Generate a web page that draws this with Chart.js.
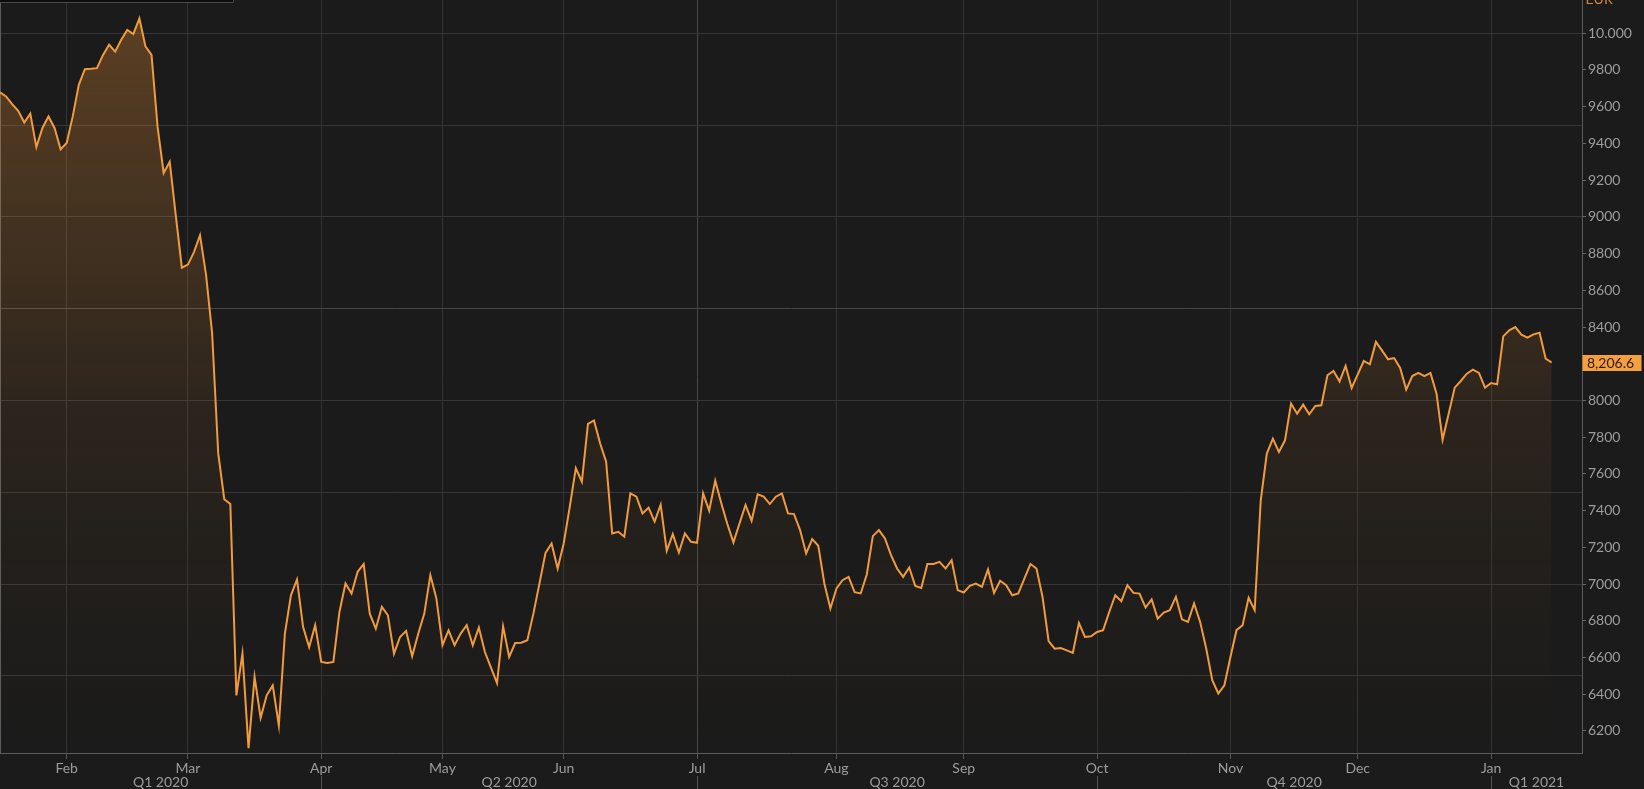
<!DOCTYPE html>
<html>
<head>
<meta charset="utf-8">
<script src="https://cdn.jsdelivr.net/npm/chart.js@4.4.1/dist/chart.umd.min.js"></script>
<style>
  html, body { margin: 0; padding: 0; background: #1b1b1b; }
  #wrap { width: 1644px; height: 789px; position: relative; }
</style>
</head>
<body>
<div id="wrap"><canvas id="chart"></canvas></div>
<script>
const startDate = "2020-01-17";
const holidays = ["2020-04-10", "2020-04-13", "2020-05-01", "2020-12-25", "2021-01-01"];
const emptySlots = 5;
const monthNames = ["Jan", "Feb", "Mar", "Apr", "May", "Jun", "Jul", "Aug", "Sep", "Oct", "Nov", "Dec"];
const quarterNames = ["Q1 2020", "Q2 2020", "Q3 2020", "Q4 2020", "Q1 2021"];
const currency = "EUR";
const crosshair = { date: "2020-07-01", value: 8500 };
const yMin = 6080, yMax = 10181;
const labelStep = 200, gridStep = 500;

// daily closes, 17 Jan 2020 .. 18 Jan 2021
const prices = [
  9678, 9656, 9614, 9578, 9514, 9562, 9380, 9484, 9547, 9484,
  9368, 9402, 9547, 9719, 9804, 9806, 9810, 9882, 9937, 9900,
  9964, 10018, 9996, 10080, 9928, 9882, 9490, 9239, 9300, 9008,
  8723, 8740, 8808, 8900, 8683, 8364, 7713, 7462, 7436, 6394,
  6621, 6106, 6494, 6272, 6394, 6448, 6230, 6730, 6939, 7025,
  6767, 6657, 6776, 6576, 6570, 6576, 6848, 7003, 6949, 7067,
  7109, 6839, 6757, 6876, 6830, 6621, 6712, 6745, 6607, 6730,
  6839, 7049, 6921, 6667, 6748, 6667, 6730, 6776, 6667, 6763,
  6630, 6545, 6461, 6770, 6603, 6679, 6681, 6694, 6839, 7003,
  7170, 7221, 7085, 7221, 7421, 7631, 7558, 7873, 7891, 7767,
  7667, 7276, 7285, 7258, 7494, 7476, 7385, 7416, 7340, 7432,
  7181, 7272, 7172, 7276, 7230, 7225, 7494, 7400, 7563, 7440,
  7327, 7227, 7330, 7431, 7345, 7489, 7476, 7436, 7476, 7494,
  7385, 7381, 7294, 7167, 7245, 7209, 7003, 6867, 6976, 7021,
  7039, 6956, 6949, 7052, 7261, 7294, 7249, 7158, 7085, 7039,
  7090, 6990, 6979, 7109, 7109, 7121, 7085, 7130, 6967, 6954,
  6990, 7003, 6985, 7080, 6952, 7018, 6994, 6939, 6949, 7030,
  7109, 7085, 6930, 6690, 6648, 6652, 6639, 6625, 6788, 6712,
  6716, 6739, 6749, 6848, 6939, 6907, 6994, 6952, 6948, 6872,
  6916, 6812, 6845, 6858, 6930, 6808, 6794, 6894, 6794, 6649,
  6476, 6404, 6449, 6603, 6749, 6776, 6925, 6858, 7456, 7711,
  7792, 7720, 7783, 7983, 7928, 7977, 7925, 7970, 7974, 8137,
  8161, 8104, 8188, 8068, 8142, 8215, 8197, 8319, 8273, 8224,
  8231, 8177, 8059, 8133, 8150, 8133, 8150, 8037, 7787, 7928,
  8070, 8106, 8146, 8168, 8150, 8070, 8095, 8088, 8349, 8382,
  8400, 8358, 8342, 8360, 8369, 8228, 8206.6
];

/* trading calendar (weekdays minus exchange holidays) */
function tradingDays(start, count) {
  const out = [];
  const d = new Date(start + "T00:00:00Z");
  while (out.length < count) {
    const iso = d.toISOString().slice(0, 10);
    const wd = d.getUTCDay();
    if (wd !== 0 && wd !== 6 && !holidays.includes(iso)) out.push(iso);
    d.setUTCDate(d.getUTCDate() + 1);
  }
  return out;
}

/* ticks at round multiples of step inside the axis range */
function stepTicks(axis, step) {
  axis.ticks = [];
  for (let v = Math.ceil(yMin / step) * step; v <= yMax; v += step) axis.ticks.push({ value: v });
}

const dates = tradingDays(startDate, prices.length + emptySlots);
const monthOf = i => Number(dates[i].slice(5, 7)) - 1;
const monthStarts = dates.map((d, i) => i).filter(i => i > 0 && monthOf(i) !== monthOf(i - 1));
const quarterStarts = monthStarts.filter(i => monthOf(i) % 3 === 0);

const gray = "#9d9d9d";
const font = { family: "Lato", size: 14 };

const extras = {
  id: "extras",
  afterDraw(chart) {
    const ctx = chart.ctx;
    const x = chart.scales.x, y = chart.scales.y;
    ctx.save();

    // quarter labels under the months
    const bounds = [x.left, ...quarterStarts.map(i => x.getPixelForValue(i)), x.right];
    ctx.font = "14px Lato";
    ctx.fillStyle = gray;
    ctx.textAlign = "center";
    ctx.textBaseline = "middle";
    quarterNames.forEach((q, k) => {
      ctx.fillText(q, (bounds[k] + bounds[k + 1]) / 2, x.top + 29);
    });
    ctx.strokeStyle = "#555";
    ctx.lineWidth = 1;
    quarterStarts.forEach(i => {
      const px = Math.round(x.getPixelForValue(i)) + 0.5;
      ctx.beginPath();
      ctx.moveTo(px, x.top + 23);
      ctx.lineTo(px, chart.height);
      ctx.stroke();
    });

    // currency, cut at the top
    ctx.textAlign = "left";
    ctx.textBaseline = "alphabetic";
    ctx.fillStyle = "#d4873f";
    ctx.fillText(currency, y.left + 3.5, 4);

    // last price tag
    const last = prices[prices.length - 1];
    const py = Math.round(y.getPixelForValue(last));
    ctx.fillStyle = "#f5a03f";
    ctx.fillRect(y.left + 0.5, py - 8, 59, 16);
    ctx.fillStyle = "#2b1b0a";
    ctx.textBaseline = "middle";
    ctx.fillText(last.toLocaleString("en-US", { minimumFractionDigits: 1 }), y.left + 5, py + 0.5);

    // legend box remnant at top left
    ctx.fillStyle = "#0d0d0d";
    ctx.fillRect(0, 0, 234, 3);
    ctx.strokeStyle = "#4a4a4a";
    ctx.beginPath();
    ctx.moveTo(0, 2.5); ctx.lineTo(233.5, 2.5); ctx.lineTo(233.5, 0);
    ctx.stroke();
    ctx.restore();
  }
};

new Chart(document.getElementById("chart"), {
  type: "line",
  data: {
    labels: dates,
    datasets: [{
      data: prices,
      borderColor: "#f29b3d",
      borderWidth: 2,
      pointRadius: 0,
      tension: 0,
      fill: "start",
      backgroundColor: c => {
        const area = c.chart.chartArea;
        if (!area) return "transparent";
        const g = c.chart.ctx.createLinearGradient(0, area.top, 0, area.bottom);
        g.addColorStop(0, "rgba(240,148,55,0.31)");
        g.addColorStop(0.4, "rgba(240,148,55,0.15)");
        g.addColorStop(0.53, "rgba(240,148,55,0.09)");
        g.addColorStop(0.66, "rgba(240,148,55,0.055)");
        g.addColorStop(0.8, "rgba(240,148,55,0.028)");
        g.addColorStop(1, "rgba(240,148,55,0)");
        return g;
      }
    }]
  },
  options: {
    responsive: true,
    maintainAspectRatio: false,
    animation: false,
    layout: { padding: 0 },
    plugins: { legend: { display: false }, tooltip: { enabled: false } },
    scales: {
      x: {
        type: "category",
        offset: false,
        afterBuildTicks: axis => { axis.ticks = monthStarts.map(i => ({ value: i })); },
        afterFit: axis => { axis.height = 36; axis.paddingLeft = 0; axis.paddingRight = 0; },
        grid: {
          color: c => (c.tick && dates[c.tick.value] === crosshair.date) ? "#474747" : "#333",
          tickLength: 6,
          tickColor: "#555",
          offset: false
        },
        border: { color: "#5c5c5c" },
        ticks: {
          autoSkip: false,
          maxRotation: 0,
          padding: 1,
          color: gray,
          font,
          callback: v => monthNames[monthOf(v)]
        }
      },
      y: {
        position: "right",
        min: yMin,
        max: yMax,
        afterBuildTicks: axis => stepTicks(axis, labelStep),
        afterFit: axis => { axis.width = 62; axis.paddingTop = 0; axis.paddingBottom = 0; },
        grid: { drawOnChartArea: false, tickLength: 4, tickColor: "#666" },
        border: { color: "#5c5c5c" },
        ticks: {
          padding: 2,
          color: gray,
          font,
          callback: v => v >= 10000 ? "10.000" : String(v)
        }
      },
      yGrid: {
        position: "left",
        min: yMin,
        max: yMax,
        afterBuildTicks: axis => stepTicks(axis, gridStep),
        afterFit: axis => { axis.width = 0; axis.paddingTop = 0; axis.paddingBottom = 0; },
        grid: {
          drawTicks: false,
          color: c => (c.tick && c.tick.value === crosshair.value) ? "#474747" : "#363636"
        },
        border: { color: "#5c5c5c" },
        ticks: { display: false }
      }
    }
  },
  plugins: [extras]
});
</script>
</body>
</html>
